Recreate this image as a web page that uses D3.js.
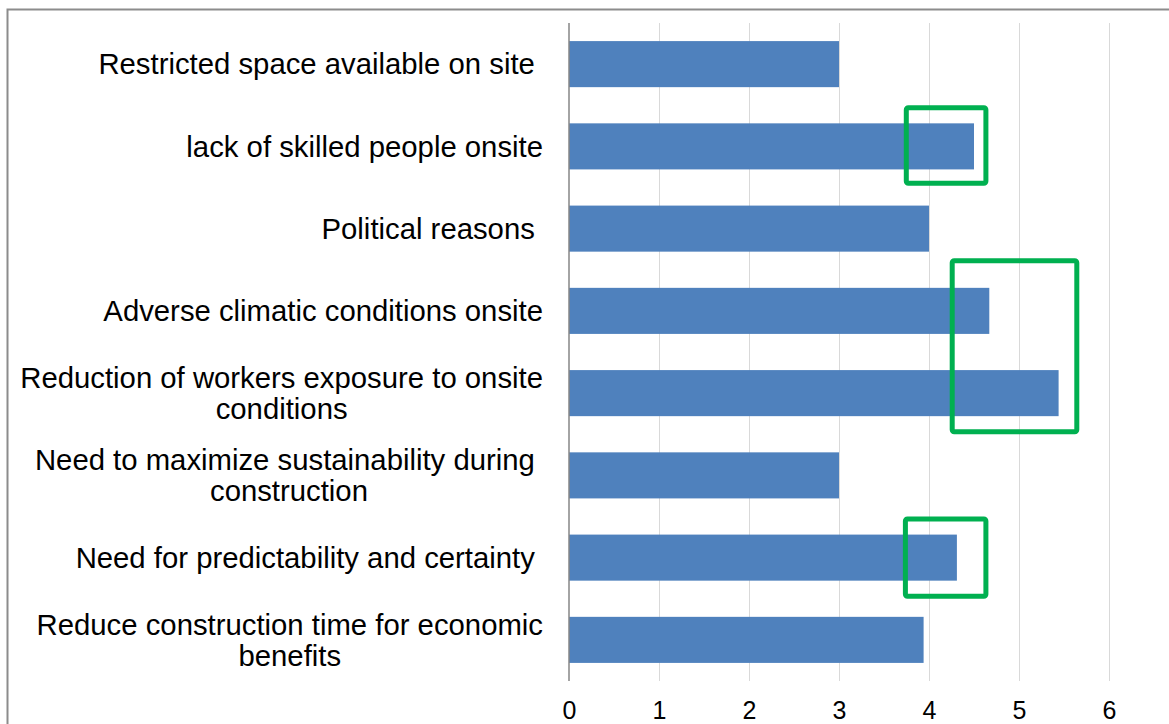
<!DOCTYPE html>
<html>
<head>
<meta charset="utf-8">
<script src="https://cdn.jsdelivr.net/npm/d3@7"></script>
<style>
  html, body { margin: 0; padding: 0; background: #fff; }
  svg { display: block; font-family: "Liberation Sans", Arial, sans-serif; }
</style>
</head>
<body>
<svg id="chart" width="1169" height="724"></svg>
<script>
// Drivers for off-site construction, mean rating per driver
const categories = [
  ["Restricted space available on site "],
  ["lack of skilled people onsite"],
  ["Political reasons "],
  ["Adverse climatic conditions onsite"],
  ["Reduction of workers exposure to onsite", "conditions"],
  ["Need to maximize sustainability during ", "construction"],
  ["Need for predictability and certainty "],
  ["Reduce construction time for economic", "benefits"]
];
const values = [3.0, 4.5, 4.0, 4.67, 5.44, 3.0, 4.31, 3.94];
const xTicks = [0, 1, 2, 3, 4, 5, 6];

// Highlight boxes: category-index span and value span
const boxIdxStart = [1.0, 2.86, 6.0];
const boxIdxEnd   = [1.98, 5.0, 7.0];
const boxValStart = [3.72, 4.23, 3.71];
const boxValEnd   = [4.66, 5.67, 4.66];

const svg = d3.select("#chart");
const plot = { left: 569, right: 1109, top: 23, bottom: 681 };
const fontSize = 29.3;
const tickFontSize = 25;

// outer frame
svg.append("rect")
  .attr("x", 7.5).attr("y", 9.5)
  .attr("width", 1200).attr("height", 800)
  .attr("fill", "none")
  .attr("stroke", "#8c8c8c")
  .attr("stroke-width", 2);

const keys = categories.map((d, i) => i);
const x = d3.scaleLinear().domain([0, 6]).range([plot.left, plot.right]);
const y = d3.scaleBand().domain(keys).range([plot.top, plot.bottom])
  .paddingInner(0.44).paddingOuter(0.22);
const yIdx = d3.scaleLinear().domain([0, categories.length]).range([plot.top, plot.bottom]);

// vertical gridlines
svg.append("g")
  .selectAll("line")
  .data(xTicks.filter(t => t > 0))
  .join("line")
  .attr("x1", d => x(d) + 0.5).attr("x2", d => x(d) + 0.5)
  .attr("y1", plot.top).attr("y2", plot.bottom)
  .attr("stroke", "#d9d9d9").attr("stroke-width", 1);

// bars
svg.append("g")
  .selectAll("rect")
  .data(values)
  .join("rect")
  .attr("x", x(0))
  .attr("y", (d, i) => y(i))
  .attr("width", d => x(d) - x(0))
  .attr("height", y.bandwidth())
  .attr("fill", "#4f81bd");

// category axis line at zero
svg.append("line")
  .attr("x1", x(0)).attr("x2", x(0))
  .attr("y1", plot.top).attr("y2", plot.bottom)
  .attr("stroke", "#868686").attr("stroke-width", 1.5);

// value axis labels (baseline just above the bottom edge)
const xAxis = d3.axisBottom(x).tickValues(xTicks).tickSize(0).tickPadding(0).tickFormat(d3.format("d"));
const gx = svg.append("g").attr("transform", `translate(0,${plot.bottom + 38})`).call(xAxis);
gx.select(".domain").remove();
gx.selectAll("text")
  .attr("y", 0)
  .attr("dy", 0)
  .attr("font-size", tickFontSize)
  .attr("font-family", "'Liberation Sans', Arial, sans-serif")
  .attr("fill", "#000");

// category labels: right-aligned block, lines centred on each other
const labelRight = 543;
const lineGap = 31;
const measure = svg.append("text").attr("font-size", fontSize).attr("visibility", "hidden");
const textWidth = s => { measure.text(s); return measure.node().getComputedTextLength(); };
const spaceW = textWidth("a a") - textWidth("aa");

const gl = svg.append("g").attr("font-size", fontSize).attr("fill", "#000");
categories.forEach((lines, i) => {
  const info = lines.map(s => {
    const t = s.replace(/\s+$/, "");
    const trail = s.length > t.length ? spaceW : 0;
    return { t, w: textWidth(t), trail };
  });
  const blockW = d3.max(info, d => d.w + d.trail);
  const cx = labelRight - blockW / 2;
  const cy = y(i) + y.bandwidth() / 2;
  const y0 = cy - (lines.length - 1) * lineGap / 2;
  info.forEach((d, k) => {
    gl.append("text")
      .attr("x", cx - d.trail / 2)
      .attr("y", y0 + k * lineGap)
      .attr("dy", "0.35em")
      .attr("text-anchor", "middle")
      .text(d.t);
  });
});
measure.remove();

// highlight boxes
svg.append("g")
  .selectAll("rect")
  .data(boxIdxStart.map((s, i) => ({ s, e: boxIdxEnd[i], v0: boxValStart[i], v1: boxValEnd[i] })))
  .join("rect")
  .attr("x", d => x(d.v0) + 2.5)
  .attr("y", d => yIdx(d.s) + 2.5)
  .attr("width", d => x(d.v1) - x(d.v0) - 5)
  .attr("height", d => yIdx(d.e) - yIdx(d.s) - 5)
  .attr("rx", 2)
  .attr("fill", "none")
  .attr("stroke", "#00b050")
  .attr("stroke-width", 5);
</script>
</body>
</html>
